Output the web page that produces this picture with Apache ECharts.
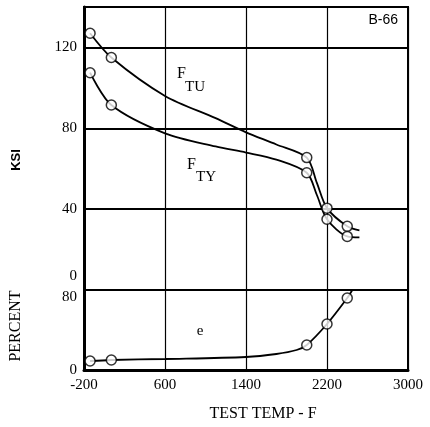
<!DOCTYPE html>
<html>
<head>
<meta charset="utf-8">
<script src="https://cdn.jsdelivr.net/npm/echarts@6/dist/echarts.min.js"></script>
<style>
  html, body { margin: 0; padding: 0; background: #fff; }
  #chart { width: 430px; height: 427px; }
</style>
</head>
<body>
<div id="chart"></div>
<script>
// 测试温度 (F) - 数据点
var testTemp = [-140, 70, 2000, 2200, 2400];
var ftuPts = [127, 115, 65.5, 40.5, 31.5];
var ftyPts = [107.5, 91.5, 58, 35, 26.5];
var elongPts = [9, 10, 25, 46, 72];

// 曲线走向
var curveTemp = [-140, 70, 600, 1100, 1400, 1700, 2000, 2100, 2200, 2400, 2520];
var ftuCurve = [127, 115, 96, 85, 78, 72, 65.5, 53, 40.5, 31.5, 29.5];
var ftyCurve = [107.5, 91.5, 77.5, 71, 68, 64.5, 58, 47, 35, 26.5, 26];
var elongTemp = [-140, 70, 600, 1400, 1700, 1900, 2000, 2200, 2400, 2450];
var elongCurve = [9, 10, 11, 13, 16, 20, 25, 46, 72, 80];

function pairs(xs, ys) {
    return xs.map(function (x, i) { return [x, ys[i]]; });
}

var myChart = echarts.init(document.getElementById('chart'));

var serif = 'Liberation Serif';
var pointStyle = { color: '#fff', borderColor: '#000', borderWidth: 1.5 };
var curveStyle = { color: '#000', width: 1.8 };

var option = {
    backgroundColor: '#fff',
    animation: false,
    grid: [
        { left: 84, top: 7, width: 324, height: 283, show: true, borderColor: '#000', borderWidth: 2 },
        { left: 84, top: 290, width: 324, height: 80, show: true, borderColor: '#000', borderWidth: 2 }
    ],
    xAxis: [
        {
            gridIndex: 0, type: 'value', min: -200, max: 3000, interval: 800,
            axisLine: { show: false }, axisTick: { show: false }, axisLabel: { show: false },
            splitLine: { show: true, lineStyle: { color: '#000', width: 1.2 } }
        },
        {
            gridIndex: 1, type: 'value', min: -200, max: 3000, interval: 800,
            axisLine: { show: true, onZero: false, lineStyle: { color: '#000', width: 3 } },
            axisTick: { show: false },
            axisLabel: {
                color: '#000', fontFamily: serif, fontSize: 15, margin: 8,
                formatter: function (v) { return String(v); }
            },
            splitLine: { show: true, lineStyle: { color: '#000', width: 1.2 } }
        }
    ],
    yAxis: [
        {
            gridIndex: 0, type: 'value', min: 0, max: 140, interval: 40,
            axisLine: { show: true, onZero: false, lineStyle: { color: '#000', width: 3 } },
            axisTick: { show: false },
            axisLabel: {
                color: '#000', fontFamily: serif, fontSize: 15, margin: 7, showMaxLabel: false,
                formatter: function (v) { return v === 0 ? '{up|0}' : String(v); },
                rich: { up: { fontFamily: serif, fontSize: 15, padding: [0, 0, 28, 0] } }
            },
            splitLine: { show: true, lineStyle: { color: '#000', width: 2 } }
        },
        {
            gridIndex: 1, type: 'value', min: 0, max: 80, interval: 80,
            axisLine: { show: true, onZero: false, lineStyle: { color: '#000', width: 3 } },
            axisTick: { show: false },
            axisLabel: {
                color: '#000', fontFamily: serif, fontSize: 15, margin: 7,
                formatter: function (v) { return v === 80 ? '{dn|80}' : String(v); },
                rich: { dn: { fontFamily: serif, fontSize: 15, padding: [14, 0, 0, 0] } }
            },
            splitLine: { show: true, lineStyle: { color: '#000', width: 2 } }
        }
    ],
    series: [
        {
            name: 'FTU', type: 'line', xAxisIndex: 0, yAxisIndex: 0,
            data: pairs(curveTemp, ftuCurve), smooth: 0.3,
            showSymbol: false, lineStyle: curveStyle
        },
        {
            name: 'FTY', type: 'line', xAxisIndex: 0, yAxisIndex: 0,
            data: pairs(curveTemp, ftyCurve), smooth: 0.3,
            showSymbol: false, lineStyle: curveStyle
        },
        {
            name: 'e', type: 'line', xAxisIndex: 1, yAxisIndex: 1,
            data: pairs(elongTemp, elongCurve), smooth: 0.3,
            showSymbol: false, lineStyle: curveStyle
        },
        {
            type: 'scatter', xAxisIndex: 0, yAxisIndex: 0, z: 5,
            data: pairs(testTemp, ftuPts), symbolSize: 10, itemStyle: pointStyle
        },
        {
            type: 'scatter', xAxisIndex: 0, yAxisIndex: 0, z: 5,
            data: pairs(testTemp, ftyPts), symbolSize: 10, itemStyle: pointStyle
        },
        {
            type: 'scatter', xAxisIndex: 1, yAxisIndex: 1, z: 5,
            data: pairs(testTemp, elongPts), symbolSize: 10, itemStyle: pointStyle
        }
    ],
    graphic: [
        { type: 'text', x: 16, y: 160, rotation: Math.PI / 2,
          style: { text: 'KSI', font: 'bold 13px "Liberation Sans"', fill: '#000', align: 'center', verticalAlign: 'middle' } },
        { type: 'text', x: 16, y: 326, rotation: Math.PI / 2,
          style: { text: 'PERCENT', font: '16px "Liberation Serif"', fill: '#000', align: 'center', verticalAlign: 'middle' } },
        { type: 'text', x: 263, y: 414,
          style: { text: 'TEST TEMP - F', font: '16px "Liberation Serif"', fill: '#000', align: 'center', verticalAlign: 'middle' } },
        { type: 'text', x: 398, y: 20,
          style: { text: 'B-66', font: '14px "Liberation Sans"', fill: '#000', align: 'right', verticalAlign: 'middle' } },
        { type: 'text', x: 177, y: 74,
          style: { text: 'F', font: '16px "Liberation Serif"', fill: '#000', align: 'left', verticalAlign: 'middle' } },
        { type: 'text', x: 185, y: 87,
          style: { text: 'TU', font: '15px "Liberation Serif"', fill: '#000', align: 'left', verticalAlign: 'middle' } },
        { type: 'text', x: 187, y: 165,
          style: { text: 'F', font: '16px "Liberation Serif"', fill: '#000', align: 'left', verticalAlign: 'middle' } },
        { type: 'text', x: 196, y: 177,
          style: { text: 'TY', font: '15px "Liberation Serif"', fill: '#000', align: 'left', verticalAlign: 'middle' } },
        { type: 'text', x: 200, y: 331,
          style: { text: 'e', font: '15px "Liberation Serif"', fill: '#000', align: 'center', verticalAlign: 'middle' } }
    ]
};

myChart.setOption(option);
</script>
</body>
</html>
